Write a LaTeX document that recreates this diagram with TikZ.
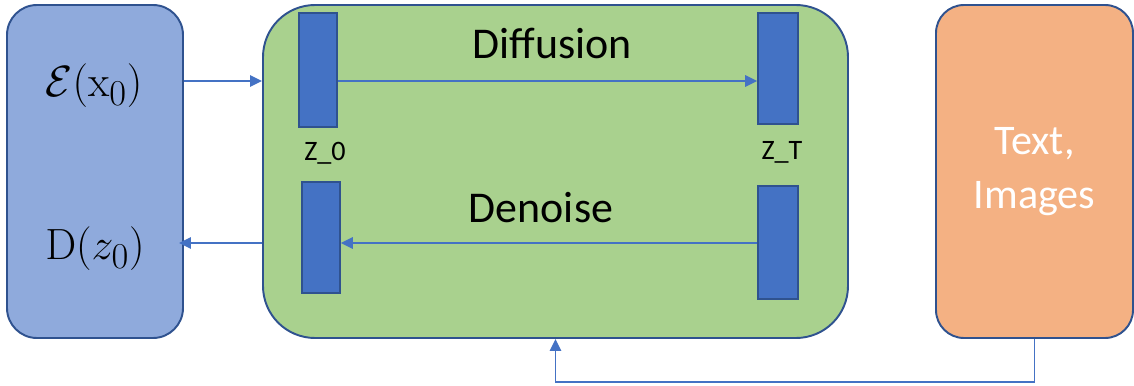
\documentclass[tikz,border=0pt]{standalone}
\usepackage[no-math]{fontspec}
\setmainfont{Carlito}
\usetikzlibrary{positioning,calc,arrows.meta}
\definecolor{enc}{HTML}{8FAADC}
\definecolor{lat}{HTML}{A9D18E}
\definecolor{cnd}{HTML}{F4B183}
\definecolor{bar}{HTML}{4472C4}
\definecolor{edg}{HTML}{2F528F}
\definecolor{lnk}{HTML}{4472C4}
\tikzset{
  blk/.style={draw=edg, line width=1.1pt, minimum height=66.6mm, inner sep=0pt},
  vec/.style={draw=edg, fill=bar, line width=1pt, minimum width=7.6mm, minimum height=22.4mm, inner sep=0pt},
  arr/.style={draw=lnk, line width=0.9pt, -{Triangle[length=2.4mm, width=2.3mm]}},
  big/.style={font=\fontsize{25}{30}\selectfont},
  sml/.style={font=\fontsize{16}{19}\selectfont}}

\begin{document}
\begin{tikzpicture}
\useasboundingbox (0,0) rectangle (22.68,7.70);
\node[blk, fill=enc, minimum width=35.2mm, rounded corners=6mm] (enc) at (1.90,4.27) {};
\node[blk, fill=lat, minimum width=117mm, rounded corners=10.4mm] (lat) at (11.11,4.27) {};
\node[blk, fill=cnd, minimum width=39.4mm, rounded corners=5.6mm, text=white, align=center,
  font=\fontsize{24}{31}\selectfont] (cnd) at (20.69,4.27) {Text,\\Images};
\node[font=\fontsize{28}{32}\selectfont] (ex) at (1.88,5.98) {$\mathcal{E}(\mathrm{x}_0)$};
\node[font=\fontsize{28}{32}\selectfont] (dz) at (1.90,2.72) {$\mathrm{D}(z_0)$};
% latent vectors
\node[vec, minimum height=22.8mm] (z0a) at (6.36,6.30) {};
\node[vec, minimum width=8mm, minimum height=22.2mm] (zTa) at (15.56,6.33) {};
\node[vec, minimum height=22.2mm] (z0b) at (6.42,2.95) {};
\node[vec, minimum width=8mm, minimum height=22.6mm] (zTb) at (15.56,2.85) {};
\node[sml] (l0) at (6.50,4.64) {Z\_0};
\node[sml] (lT) at (15.64,4.66) {Z\_T};
\node[big] (dif) at (11.04,6.84) {Diffusion};
\node[big] (den) at (10.82,3.54) {Denoise};
\coordinate (up) at (0,6.08);
\coordinate (dn) at (0,2.84);
\draw[arr] (enc.east |- up) -- (lat.west |- up);
\draw[arr] (z0a.east |- up) -- (zTa.west |- up);
\draw[arr] (zTb.west |- dn) -- (z0b.east |- dn);
\draw[arr, shorten >=-1mm] (lat.west |- dn) -- (enc.east |- dn);
\draw[arr] (cnd.south) -- ++(0,-0.86) -| (lat.south);
\end{tikzpicture}
\end{document}
